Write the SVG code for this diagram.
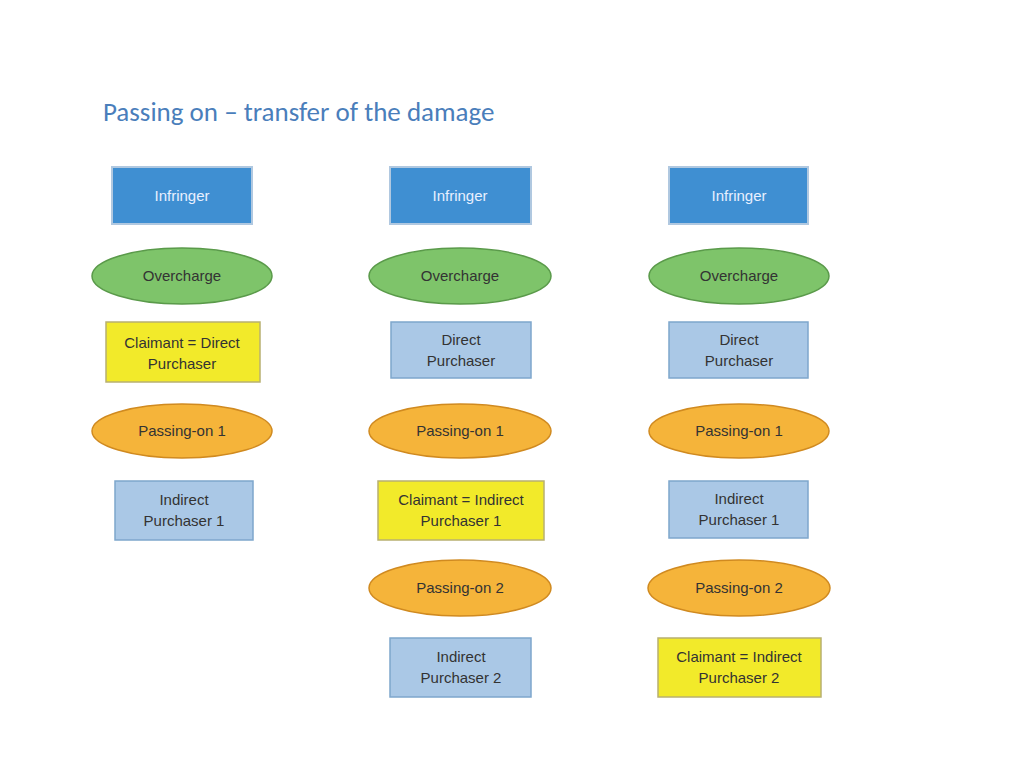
<svg xmlns="http://www.w3.org/2000/svg" width="1024" height="768" viewBox="0 0 1024 768">
<style>
text{font-family:"Liberation Sans",Arial,sans-serif;font-size:15px;text-anchor:middle;fill:#333}
.inf{fill:#3f8fd2;stroke:#b0c8e0;stroke-width:2}
.inf+text{fill:#e8f0ff}
.ov{fill:#7ec46a;stroke:#5a9a4a;stroke-width:1.5}
.po{fill:#f5b43a;stroke:#d08a20;stroke-width:1.5}
.lb{fill:#aac8e6;stroke:#7ea6cc;stroke-width:1.5}
.ye{fill:#f2ea2a;stroke:#b8b070;stroke-width:1.5}
.title{font-family:Calibri,Carlito,"Liberation Sans",sans-serif;font-size:27px;fill:#4a7ebb;text-anchor:start}
</style>
<rect width="1024" height="768" fill="#fff"/>
<text class="title" x="103" y="121">Passing on – transfer of the damage</text>
<g id="c1-infringer"><rect class="inf" x="112" y="167" width="140" height="57"/><text x="182" y="201" fill="#e8f0ff" style="fill:#e8f0ff">Infringer</text></g>
<g id="c2-infringer"><rect class="inf" x="390" y="167" width="141" height="57"/><text x="460" y="201" style="fill:#e8f0ff">Infringer</text></g>
<g id="c3-infringer"><rect class="inf" x="669" y="167" width="139" height="57"/><text x="739" y="201" style="fill:#e8f0ff">Infringer</text></g>
<g id="c1-overcharge"><ellipse class="ov" cx="182" cy="276" rx="90" ry="28"/><text x="182" y="281">Overcharge</text></g>
<g id="c2-overcharge"><ellipse class="ov" cx="460" cy="276" rx="91" ry="28"/><text x="460" y="281">Overcharge</text></g>
<g id="c3-overcharge"><ellipse class="ov" cx="739" cy="276" rx="90" ry="28"/><text x="739" y="281">Overcharge</text></g>
<g id="c1-claimant"><rect class="ye" x="106" y="322" width="154" height="60"/><text x="182" y="348">Claimant = Direct</text><text x="182" y="369">Purchaser</text></g>
<g id="c2-direct"><rect class="lb" x="391" y="322" width="140" height="56"/><text x="461" y="345">Direct</text><text x="461" y="366">Purchaser</text></g>
<g id="c3-direct"><rect class="lb" x="669" y="322" width="139" height="56"/><text x="739" y="345">Direct</text><text x="739" y="366">Purchaser</text></g>
<g id="c1-po1"><ellipse class="po" cx="182" cy="431" rx="90" ry="27"/><text x="182" y="436">Passing-on 1</text></g>
<g id="c2-po1"><ellipse class="po" cx="460" cy="431" rx="91" ry="27"/><text x="460" y="436">Passing-on 1</text></g>
<g id="c3-po1"><ellipse class="po" cx="739" cy="431" rx="90" ry="27"/><text x="739" y="436">Passing-on 1</text></g>
<g id="c1-ip1"><rect class="lb" x="115" y="481" width="138" height="59"/><text x="184" y="505">Indirect</text><text x="184" y="526">Purchaser 1</text></g>
<g id="c2-claimant"><rect class="ye" x="378" y="481" width="166" height="59"/><text x="461" y="505">Claimant = Indirect</text><text x="461" y="526">Purchaser 1</text></g>
<g id="c3-ip1"><rect class="lb" x="669" y="481" width="139" height="57"/><text x="739" y="504">Indirect</text><text x="739" y="525">Purchaser 1</text></g>
<g id="c2-po2"><ellipse class="po" cx="460" cy="588" rx="91" ry="28"/><text x="460" y="593">Passing-on 2</text></g>
<g id="c3-po2"><ellipse class="po" cx="739" cy="588" rx="91" ry="28"/><text x="739" y="593">Passing-on 2</text></g>
<g id="c2-ip2"><rect class="lb" x="390" y="638" width="141" height="59"/><text x="461" y="662">Indirect</text><text x="461" y="683">Purchaser 2</text></g>
<g id="c3-claimant"><rect class="ye" x="658" y="638" width="163" height="59"/><text x="739" y="662">Claimant = Indirect</text><text x="739" y="683">Purchaser 2</text></g>
<g id="connectors"/>
</svg>
